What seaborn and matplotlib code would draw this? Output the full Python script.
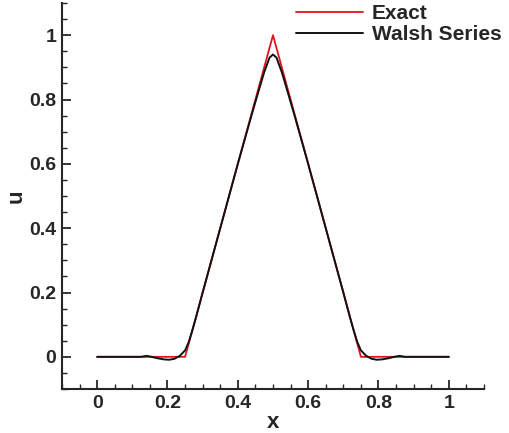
import numpy as np
import pandas as pd
import matplotlib
matplotlib.use("Agg")
import matplotlib.pyplot as plt
import seaborn as sns
from matplotlib.ticker import MultipleLocator

# exact hat function
exact_x = [0.0, 0.25, 0.5, 0.75, 1.0]
exact_u = [0.0, 0.0, 1.0, 0.0, 0.0]

# walsh series approximation
walsh_x = [0.0, 0.1, 0.125, 0.14, 0.155, 0.17, 0.19, 0.205, 0.22, 0.235,
           0.25, 0.26, 0.27, 0.28, 0.3, 0.35, 0.4, 0.44, 0.46, 0.475,
           0.49, 0.5, 0.51, 0.525, 0.54, 0.56, 0.6, 0.65, 0.7, 0.72,
           0.73, 0.74, 0.75, 0.765, 0.78, 0.795, 0.81, 0.83, 0.845, 0.86,
           0.875, 0.9, 1.0]
walsh_u = [0.0, 0.0, 0.0, 0.003, 0.0, -0.004, -0.008, -0.009, -0.006, 0.003,
           0.02, 0.045, 0.08, 0.118, 0.2, 0.4, 0.6, 0.755, 0.83, 0.885,
           0.93, 0.94, 0.93, 0.885, 0.83, 0.755, 0.6, 0.4, 0.2, 0.118,
           0.08, 0.045, 0.02, 0.003, -0.006, -0.009, -0.008, -0.004, 0.0, 0.003,
           0.0, 0.0, 0.0]

x_ticks = [0, 0.2, 0.4, 0.6, 0.8, 1]
x_labels = ["0", "0.2", "0.4", "0.6", "0.8", "1"]
y_ticks = [0, 0.2, 0.4, 0.6, 0.8, 1]
y_labels = ["0", "0.2", "0.4", "0.6", "0.8", "1"]

sns.set_style("ticks")
plt.rcParams['font.family'] = ['Liberation Sans', 'DejaVu Sans']
plt.rcParams['font.weight'] = 'bold'

df_exact = pd.DataFrame({"x": exact_x, "u": exact_u})
df_walsh = pd.DataFrame({"x": walsh_x, "u": walsh_u})

fig = plt.figure(figsize=(5.09, 4.33), dpi=100)
ax = fig.add_axes([62/509, 1-389/433, 422/509, 386/433])

sns.lineplot(data=df_exact, x="x", y="u", ax=ax, color="#e0141e", lw=1.3,
             label="Exact", sort=False)
sns.lineplot(data=df_walsh, x="x", y="u", ax=ax, color="#111111", lw=1.4,
             label="Walsh Series", sort=False)

ax.set_xlim(-0.1, 1.1)
ax.set_ylim(-0.1, 1.1)
ax.set_xticks(x_ticks)
ax.set_xticklabels(x_labels)
ax.set_yticks(y_ticks)
ax.set_yticklabels(y_labels)
ax.xaxis.set_minor_locator(MultipleLocator(0.05))
ax.yaxis.set_minor_locator(MultipleLocator(0.05))
ax.tick_params(which='major', direction='in', length=6.5, width=1.3,
               labelsize=14, pad=4)
ax.tick_params(which='minor', direction='in', length=3.5, width=1.0)
for lab in ax.get_xticklabels() + ax.get_yticklabels():
    lab.set_fontweight('bold')

ax.set_xlabel("x", fontsize=16, fontweight='bold', labelpad=0)
ax.set_ylabel("u", fontsize=16, fontweight='bold', labelpad=2)

for s in ['top', 'right']:
    ax.spines[s].set_visible(False)
for s in ['left', 'bottom']:
    ax.spines[s].set_linewidth(1.5)

leg = ax.legend(loc='upper left', bbox_to_anchor=(296/509, 1-4/433),
                bbox_transform=fig.transFigure, frameon=False,
                borderpad=0, borderaxespad=0, handlelength=3.2,
                handletextpad=0.43, labelspacing=0.12,
                prop={'weight': 'bold', 'size': 15})

fig.savefig("out.png", dpi=100)
